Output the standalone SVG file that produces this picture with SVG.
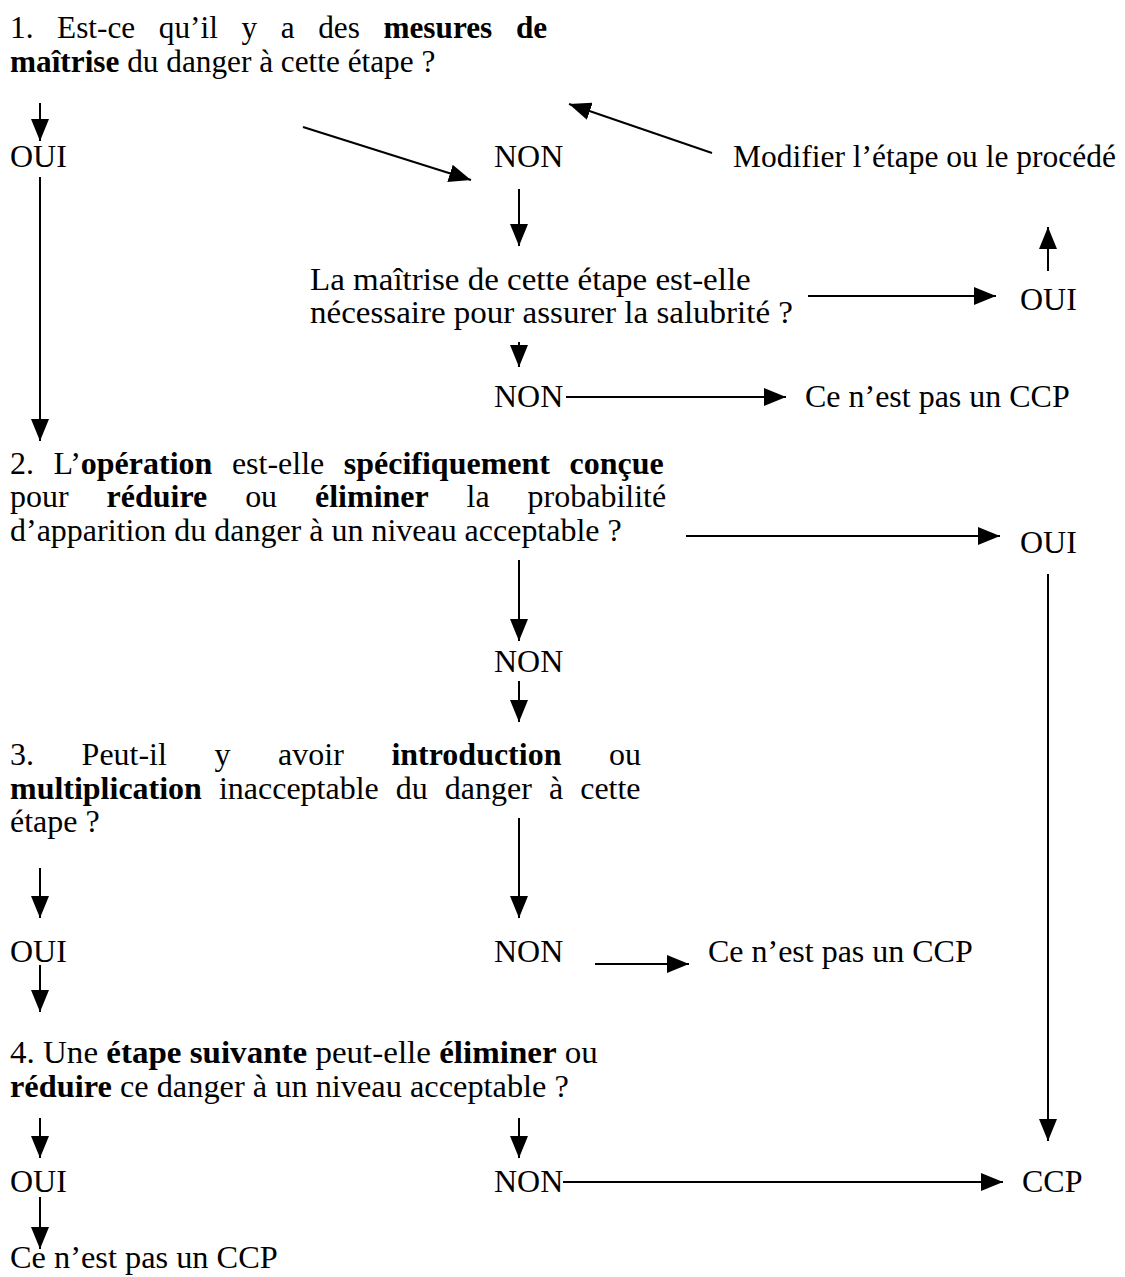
<svg xmlns="http://www.w3.org/2000/svg" width="1125" height="1277" viewBox="0 0 1125 1277">
<style>
.t{font-family:"Liberation Serif","Times New Roman",serif;font-size:31px;fill:#000}
.b{font-weight:bold}
.c line{stroke:#000;stroke-width:2;marker-end:url(#ah)}
</style>
<defs>
<marker id="ah" viewBox="0 0 22 18" refX="22" refY="9" markerWidth="22" markerHeight="18" markerUnits="userSpaceOnUse" orient="auto"><path d="M0,0 L22,9 L0,18 z" fill="#000"/></marker>
</defs>
<rect width="1125" height="1277" fill="#fff"/>
<g id="q1">
<text class="t" transform="translate(10,38) scale(1.009,1)" style="word-spacing:15.65px">1. Est-ce qu’il y a des <tspan class="b">mesures de</tspan></text>
<text class="t" transform="translate(10,72) scale(1.009,1)"><tspan class="b">maîtrise</tspan> du danger à cette étape ?</text>
</g>
<g id="q1-oui"><text class="t" transform="translate(10,167) scale(1.032,1)">OUI</text></g>
<g id="q1-non"><text class="t" transform="translate(494,167) scale(1.032,1)">NON</text></g>
<g id="modifier"><text class="t" transform="translate(733,167) scale(1.016,1)">Modifier l’étape ou le procédé</text></g>
<g id="q1b">
<text class="t" transform="translate(310,290) scale(1.065,1)">La maîtrise de cette étape est-elle</text>
<text class="t" transform="translate(310,323) scale(1.065,1)">nécessaire pour assurer la salubrité ?</text>
</g>
<g id="q1b-oui"><text class="t" transform="translate(1020,310) scale(1.032,1)">OUI</text></g>
<g id="q1b-non"><text class="t" transform="translate(494,407) scale(1.032,1)">NON</text></g>
<g id="nonccp1"><text class="t" transform="translate(805,407) scale(1.032,1)">Ce n’est pas un CCP</text></g>
<g id="q2">
<text class="t" transform="translate(10,474) scale(1.032,1)" style="word-spacing:11.25px">2. L’<tspan class="b">opération</tspan> est-elle <tspan class="b">spécifiquement conçue</tspan></text>
<text class="t" transform="translate(10,507) scale(1.032,1)" style="word-spacing:29px">pour <tspan class="b">réduire</tspan> ou <tspan class="b">éliminer</tspan> la probabilité</text>
<text class="t" transform="translate(10,541) scale(1.032,1)">d’apparition du danger à un niveau acceptable ?</text>
</g>
<g id="q2-oui"><text class="t" transform="translate(1020,553) scale(1.032,1)">OUI</text></g>
<g id="q2-non"><text class="t" transform="translate(494,672) scale(1.032,1)">NON</text></g>
<g id="q3">
<text class="t" transform="translate(10,765) scale(1.032,1)" style="word-spacing:38.4px">3. Peut-il y avoir <tspan class="b">introduction</tspan> ou</text>
<text class="t" transform="translate(10,799) scale(1.032,1)" style="word-spacing:8.8px"><tspan class="b">multiplication</tspan> inacceptable du danger à cette</text>
<text class="t" transform="translate(10,832) scale(1.032,1)">étape ?</text>
</g>
<g id="q3-oui"><text class="t" transform="translate(10,962) scale(1.032,1)">OUI</text></g>
<g id="q3-non"><text class="t" transform="translate(494,962) scale(1.032,1)">NON</text></g>
<g id="nonccp2"><text class="t" transform="translate(708,962) scale(1.032,1)">Ce n’est pas un CCP</text></g>
<g id="q4">
<text class="t" transform="translate(10,1063) scale(1.066,1)">4. Une <tspan class="b">étape suivante</tspan> peut-elle <tspan class="b">éliminer</tspan> ou</text>
<text class="t" transform="translate(10,1097) scale(1.044,1)"><tspan class="b">réduire</tspan> ce danger à un niveau acceptable ?</text>
</g>
<g id="q4-oui"><text class="t" transform="translate(10,1192) scale(1.032,1)">OUI</text></g>
<g id="q4-non"><text class="t" transform="translate(494,1192) scale(1.032,1)">NON</text></g>
<g id="ccp"><text class="t" transform="translate(1022,1192) scale(1.032,1)">CCP</text></g>
<g id="nonccp3"><text class="t" transform="translate(10,1268) scale(1.044,1)">Ce n’est pas un CCP</text></g>
<g id="connectors" class="c">
<line x1="40" y1="103" x2="40" y2="141"/>
<line x1="303" y1="127" x2="471" y2="180"/>
<line x1="712" y1="153" x2="569" y2="104"/>
<line x1="40" y1="177" x2="40" y2="441"/>
<line x1="519" y1="189" x2="519" y2="246"/>
<line x1="808" y1="296" x2="996" y2="296"/>
<line x1="1048" y1="271" x2="1048" y2="227"/>
<line x1="519" y1="342" x2="519" y2="367"/>
<line x1="566" y1="397" x2="786" y2="397"/>
<line x1="686" y1="536" x2="1000" y2="536"/>
<line x1="1048" y1="574" x2="1048" y2="1141"/>
<line x1="519" y1="560" x2="519" y2="641"/>
<line x1="519" y1="681" x2="519" y2="722"/>
<line x1="40" y1="868" x2="40" y2="918"/>
<line x1="519" y1="818" x2="519" y2="918"/>
<line x1="595" y1="964" x2="689" y2="964"/>
<line x1="40" y1="965" x2="40" y2="1012"/>
<line x1="40" y1="1118" x2="40" y2="1158"/>
<line x1="519" y1="1118" x2="519" y2="1158"/>
<line x1="563" y1="1182" x2="1003" y2="1182"/>
<line x1="40" y1="1197" x2="40" y2="1249"/>
</g>
</svg>
